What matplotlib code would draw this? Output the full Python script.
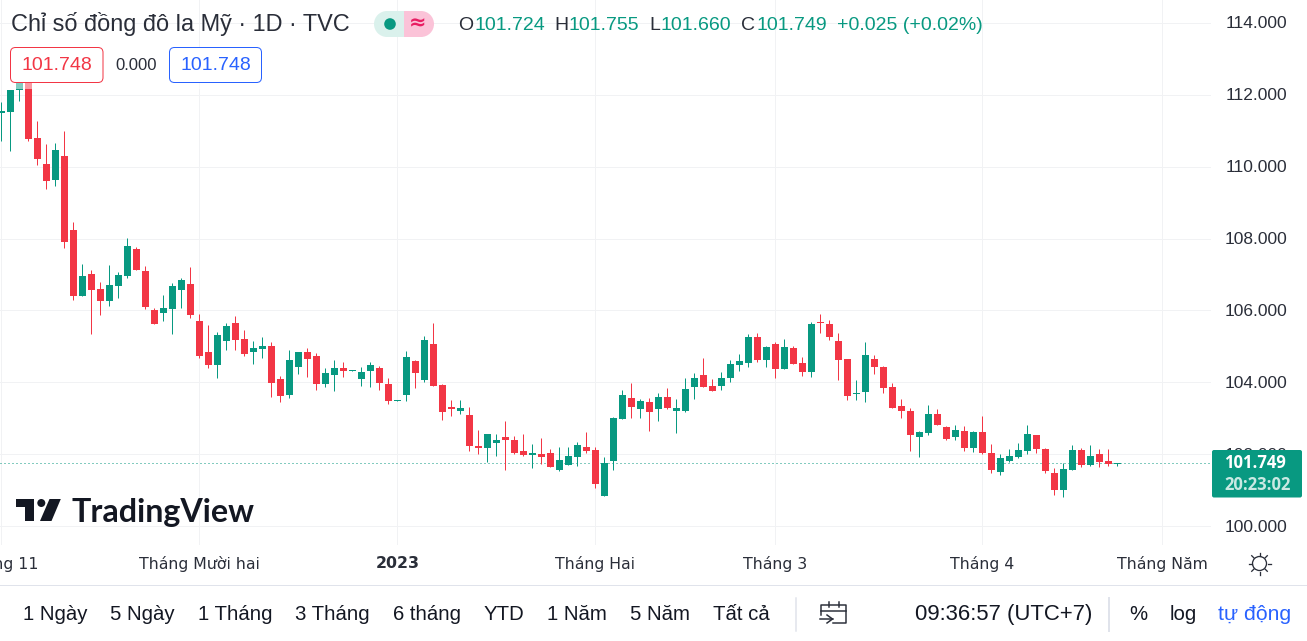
import matplotlib
matplotlib.use("Agg")
import matplotlib.pyplot as plt
from matplotlib.patches import Rectangle, FancyBboxPatch, Circle, Polygon, Wedge
import numpy as np

UP = "#089981"
DOWN = "#F23645"
INK = "#131722"

open_ = [111.49,111.52,112.13,112.63,110.80,110.07,109.63,110.29,108.24,106.40,
         107.01,106.60,106.26,106.68,106.95,107.71,107.09,106.01,105.93,106.04,
         106.57,106.74,105.70,104.84,104.48,105.15,105.65,105.20,104.84,104.93,
         105.01,104.09,103.65,104.43,104.84,104.73,103.96,104.20,104.40,104.31,
         104.09,104.31,104.40,103.96,103.48,103.65,104.59,104.07,105.07,103.93,
         103.31,103.20,103.09,102.23,102.17,102.31,102.48,102.40,102.09,101.98,
         102.01,102.04,101.56,101.70,101.93,102.20,102.12,100.84,101.81,102.98,
         103.57,103.26,103.45,103.26,103.59,103.20,103.20,103.87,104.20,103.90,
         103.90,104.12,104.48,104.54,105.26,104.62,105.07,104.37,104.95,104.54,
         104.28,105.67,105.62,105.15,104.65,103.68,103.73,104.65,104.43,103.87,
         103.34,103.20,102.48,102.59,103.12,102.76,102.48,102.65,102.17,102.62,
         102.04,101.51,101.81,101.93,102.09,102.53,102.14,101.48,101.00,101.56,
         102.12,101.70,102.01,101.81,101.724]
high = [111.79,112.13,112.75,112.75,111.27,110.63,110.66,110.99,108.45,107.29,
        107.12,106.79,107.26,107.07,108.02,107.77,107.23,106.07,106.43,106.77,
        106.90,107.21,105.90,105.59,105.40,105.65,105.84,105.45,105.15,105.26,
        105.12,104.17,104.90,104.84,104.95,104.81,104.40,104.62,104.56,104.34,
        104.43,104.56,104.45,104.12,103.51,104.87,104.62,105.29,105.65,103.96,
        103.51,103.51,103.31,102.67,102.56,102.56,102.92,102.51,102.56,102.29,
        102.45,102.14,102.20,102.20,102.34,102.62,102.20,101.93,103.04,103.79,
        103.98,103.54,103.57,103.70,103.84,103.54,104.12,104.26,104.68,104.09,
        104.28,104.62,104.79,105.34,105.37,105.01,105.12,105.20,105.01,104.70,
        105.67,105.90,105.73,105.37,104.65,104.07,105.12,104.76,104.45,103.98,
        103.54,103.29,102.65,103.37,103.26,102.78,102.81,102.78,102.65,103.06,
        102.29,102.01,102.14,102.31,102.81,102.53,102.17,101.62,101.76,102.26,
        102.17,102.26,102.14,102.14,101.755]
low = [110.71,110.43,111.82,110.71,110.04,109.38,109.46,107.74,106.29,106.40,
       105.34,105.87,106.12,106.34,106.90,107.12,106.04,105.62,105.70,105.34,
       106.07,105.79,104.68,104.40,104.12,104.90,104.90,104.73,104.51,104.68,
       103.59,103.45,103.57,104.23,104.15,103.79,103.87,103.76,104.15,104.31,
       103.90,103.87,103.79,103.40,103.48,103.48,103.84,104.01,103.90,102.95,
       103.06,103.12,102.09,102.01,101.78,101.95,101.56,102.01,101.95,101.62,
       101.73,101.65,101.53,101.70,101.68,102.04,101.06,100.84,101.56,102.98,
       103.01,103.01,102.65,102.92,103.26,102.59,103.17,103.54,103.87,103.76,
       103.79,104.01,104.31,104.43,104.56,104.43,104.12,104.37,104.51,104.17,
       104.15,105.37,105.18,104.07,103.51,103.51,103.45,104.23,103.70,103.29,
       103.01,102.09,101.92,102.53,102.81,102.40,102.40,102.09,102.06,102.01,
       101.48,101.42,101.78,101.90,102.01,102.04,101.48,100.86,100.81,101.56,
       101.65,101.68,101.65,101.68,101.660]
close = [111.55,112.13,112.63,110.77,110.21,109.60,110.46,107.90,106.40,106.95,
         106.57,106.26,106.71,106.98,107.80,107.12,106.10,105.62,106.07,106.68,
         106.85,105.87,104.73,104.48,105.31,105.56,105.18,104.79,104.95,105.01,
         103.98,103.62,104.62,104.84,104.65,103.96,104.26,104.40,104.31,104.34,
         104.28,104.48,103.98,103.48,103.51,104.70,104.26,105.18,103.90,103.17,
         103.26,103.29,102.23,102.17,102.56,102.40,102.40,102.04,101.98,102.04,
         101.93,101.65,101.84,101.95,102.26,102.09,101.17,101.76,103.01,103.65,
         103.31,103.48,103.17,103.59,103.29,103.29,103.82,104.12,103.87,103.76,
         104.12,104.51,104.59,105.26,104.62,104.98,104.37,104.98,104.51,104.28,
         105.62,105.65,105.26,104.62,103.62,103.70,104.76,104.43,103.84,103.29,
         103.20,102.53,102.62,103.12,102.81,102.42,102.67,102.17,102.62,102.04,
         101.56,101.90,101.95,102.12,102.56,102.14,101.53,101.00,101.59,102.12,
         101.70,101.95,101.78,101.73,101.749]
y_ticks = [100, 102, 104, 106, 108, 110, 112, 114]
x_tick_idx = [0, 22, 44, 66, 86, 109, 129]
x_tick_labels = ["Tháng 11", "Tháng Mười hai", "2023", "Tháng Hai", "Tháng 3", "Tháng 4", "Tháng Năm"]
last_price = 101.749
range_buttons = ["1 Ngày", "5 Ngày", "1 Tháng", "3 Tháng", "6 tháng", "YTD", "1 Năm", "5 Năm", "Tất cả"]
range_x = [23, 110, 198, 295, 393, 484, 547, 630, 713]

W, H = 1307, 641
fig = plt.figure(figsize=(W / 100, H / 100), dpi=100, facecolor="white")
PX = 0.72

# price pane: right edge 1211 px, bottom edge 545 px
ax = fig.add_axes([0, 1 - 545 / H, 1211 / W, 545 / H])
ax.set_xlim(-1.4 / 9, (1211 - 1.4) / 9)
ax.set_ylim(100 + (526.1 - 545) / 35.95, 100 + 526.1 / 35.95)
for s in ax.spines.values():
    s.set_visible(False)
ax.set_xticks(x_tick_idx)
ax.set_yticks(y_ticks)
ax.tick_params(length=0, labelbottom=False, labelleft=False)
ax.grid(True, color="#f1f2f4", lw=PX)
ax.set_axisbelow(True)

o, h, l, c = map(np.array, (open_, high, low, close))
xs = np.arange(len(o))
cols = [UP if ci >= oi else DOWN for oi, ci in zip(o, c)]
ax.vlines(xs, l, h, colors=cols, lw=PX, zorder=3)
bottoms = np.minimum(o, c)
heights = np.maximum(np.abs(c - o), 0.02)
ax.bar(xs, heights, bottom=bottoms, width=7 / 9, color=cols, linewidth=0, zorder=3)
ax.axhline(last_price, color=UP, lw=PX, ls=(0, (1, 3)), zorder=2, snap=True)

# overlay in pixel coordinates for the TradingView furniture
ui = fig.add_axes([0, 0, 1, 1], facecolor="none")
ui.set_xlim(0, W)
ui.set_ylim(H, 0)
ui.axis("off")

SANS = "Liberation Sans"
def T(x, y, s, size, color=INK, ha="left", family=SANS, weight="normal", **kw):
    return ui.text(x, y, s, fontsize=size, color=color, ha=ha, va="center",
                   family=family, weight=weight, **kw)

# title row
T(11, 24, "Chỉ số đồng đô la Mỹ · 1D · TVC", 16.95, color="#2a2e39")
ui.add_patch(Wedge((387, 24), 13, 90, 270, fc="#daf1ec", ec="none"))
ui.add_patch(Rectangle((387, 11), 17, 26, fc="#daf1ec", ec="none"))
ui.add_patch(Rectangle((404, 11), 17, 26, fc="#fbc3d8", ec="none"))
ui.add_patch(Wedge((421, 24), 13, -90, 90, fc="#fbc3d8", ec="none"))
ui.add_patch(Circle((390, 24), 5.8, fc=UP, ec="none"))
T(418, 23, "≈", 15, color="#e91e63", ha="center", family="DejaVu Sans", weight="bold")
for x, s in [(458, "O"), (554, "H"), (649, "L"), (741, "C")]:
    T(x, 25, s, 14, color="#2a2e39")
for x, s in [(474, "101.724"), (569, "101.755"), (661, "101.660"), (757, "101.749"), (837, "+0.025 (+0.02%)")]:
    T(x, 25, s, 14, color=UP)

# fade strip and value boxes
ui.add_patch(Rectangle((10, 82), 252, 7.2, fc="white", ec="none", alpha=0.5, zorder=4))
ui.add_patch(FancyBboxPatch((10.5, 47.5), 92.5, 35, boxstyle="round,pad=0,rounding_size=5", fc="white", ec=DOWN, lw=PX, zorder=5))
ui.add_patch(FancyBboxPatch((169.5, 47.5), 92, 35, boxstyle="round,pad=0,rounding_size=5", fc="white", ec="#2962FF", lw=PX, zorder=5))
T(57, 65, "101.748", 14, color=DOWN, ha="center", zorder=6)
T(136, 65.5, "0.000", 12, color="#2a2e39", ha="center", zorder=6)
T(215.5, 65, "101.748", 14, color="#2962FF", ha="center", zorder=6)

# price scale
for v in y_ticks:
    ypx = 526.1 - 35.95 * (v - 100) + 1.2
    T(1287, ypx, f"{v:.3f}", 12.5, color="#2a2e39", ha="right")
ui.add_patch(FancyBboxPatch((1212, 450), 90, 47.5, boxstyle="round,pad=0,rounding_size=2", fc=UP, ec="none", zorder=5))
T(1224, 463, f"{last_price:.3f}", 12.0, color="white", family="Open Sans", weight="bold", zorder=6)
T(1224, 485, "20:23:02", 12.0, color="#c9e9e3", family="Open Sans", weight="bold", zorder=6)

# time scale labels
for i, s in zip(x_tick_idx, x_tick_labels):
    xp = 1.4 + 9 * i
    T(xp, 564, s, 11.3, color="#2a2e39", ha="center", family="DejaVu Sans",
      weight="bold" if s == "2023" else "normal")

# sun icon
ui.add_patch(Circle((1259.5, 563.5), 7, fc="none", ec="#2a2e39", lw=PX * 1.3))
for a in np.arange(8) * np.pi / 4:
    ui.plot([1259.5 + 8 * np.cos(a), 1259.5 + 11 * np.cos(a)],
            [563.5 + 8 * np.sin(a), 563.5 + 11 * np.sin(a)], color="#2a2e39", lw=PX * 1.3)

# logo
ui.add_patch(Polygon([(16, 499), (34, 499), (34, 521), (25, 521), (25, 507), (16, 507)], fc=INK, ec="none"))
ui.add_patch(Circle((41.3, 503), 4, fc=INK, ec="none"))
ui.add_patch(Polygon([(49.5, 499), (60.8, 499), (51.5, 521), (40, 521)], fc=INK, ec="none"))
T(72, 512.5, "TradingView", 23.2, color=INK, family="Lato", weight="bold")

# bottom toolbar
ui.plot([0, W], [584.5, 584.5], color="#e0e3eb", lw=PX)
for x, s in zip(range_x, range_buttons):
    T(x, 614.5, s, 14.7, color=INK)
ui.plot([796, 796], [598, 631], color="#e0e3eb", lw=PX * 1.5)
ui.plot([1109, 1109], [598, 631], color="#e0e3eb", lw=PX * 2)
T(915, 614.5, "09:36:57 (UTC+7)", 15.9, color=INK)
T(1129, 614.5, "%", 14.7, color=INK)
T(1170, 614.5, "log", 14.7, color=INK)
T(1218, 614.5, "tự động", 15.2, color="#2962FF")

# date-range icon
ic = "#2a2e39"
lw_i = PX * 1.5
ui.plot([821, 821, 845.5, 845.5, 833], [615, 604.5, 604.5, 623, 623], color=ic, lw=lw_i)
ui.plot([821, 845.5], [611, 611], color=ic, lw=lw_i)
ui.plot([828.5, 828.5], [602, 607], color=ic, lw=lw_i)
ui.plot([839, 839], [602, 607], color=ic, lw=lw_i)
ui.plot([820, 832.5], [619, 619], color=ic, lw=lw_i)
ui.plot([827, 832.5, 827], [615, 619, 623], color=ic, lw=lw_i)

fig.savefig("out.png", dpi=100, facecolor="white")
